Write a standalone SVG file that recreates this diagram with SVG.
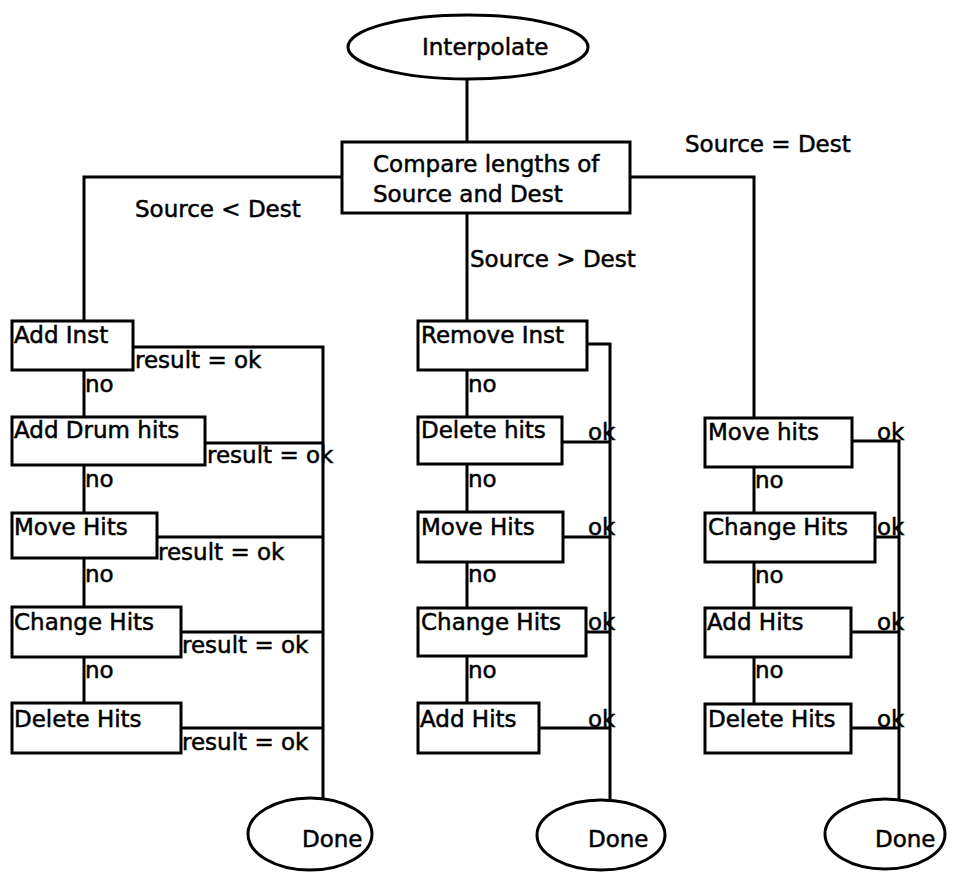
<svg xmlns="http://www.w3.org/2000/svg" width="961" height="872" viewBox="0 0 961 872">
  <style>
    .shape { fill: #fff; stroke: #000; stroke-width: 3; }
    .wire { fill: none; stroke: #000; stroke-width: 3; }
    text { font-family: "DejaVu Sans", "Liberation Sans", sans-serif; font-size: 23px; fill: #000; stroke: #000; stroke-width: 0.5; }
  </style>
  <rect width="961" height="872" fill="#fff"/>

  <!-- connectors -->
  <g id="connectors">
    <path class="wire" d="M467 79 V142"/>
    <path class="wire" d="M342 177 H84 V321"/>
    <path class="wire" d="M630 177 H754 V418"/>
    <path class="wire" d="M467 213 V321"/>
    <!-- left column -->
    <path class="wire" d="M84 370 V417 M84 465 V513 M84 558 V607 M84 657 V703"/>
    <path class="wire" d="M133 347 H323 V798"/>
    <path class="wire" d="M205 443 H323 M157 537 H323 M181 632 H323 M181 728 H323"/>
    <!-- middle column -->
    <path class="wire" d="M467 370 V417 M467 464 V512 M467 562 V608 M467 656 V703"/>
    <path class="wire" d="M587 344 H610 V800"/>
    <path class="wire" d="M562 442 H610 M563 537 H610 M586 632 H610 M539 728 H610"/>
    <!-- right column -->
    <path class="wire" d="M754 467 V513 M754 562 V608 M754 657 V704"/>
    <path class="wire" d="M852 441 H899 V799"/>
    <path class="wire" d="M875 537 H899 M851 632 H899 M851 728 H899"/>
  </g>

  <!-- branch labels -->
  <g id="labels">
    <text x="135" y="217">Source &lt; Dest</text>
    <text x="470" y="267">Source &gt; Dest</text>
    <text x="685" y="152">Source = Dest</text>

    <text x="135" y="368">result = ok</text>
    <text x="207" y="463">result = ok</text>
    <text x="158" y="560">result = ok</text>
    <text x="182" y="653">result = ok</text>
    <text x="182" y="750">result = ok</text>

    <text x="85" y="392">no</text>
    <text x="85" y="487">no</text>
    <text x="85" y="582">no</text>
    <text x="85" y="678">no</text>

    <text x="468" y="392">no</text>
    <text x="468" y="487">no</text>
    <text x="468" y="582">no</text>
    <text x="468" y="678">no</text>

    <text x="755" y="488">no</text>
    <text x="755" y="583">no</text>
    <text x="755" y="678">no</text>

    <text x="588" y="440">ok</text>
    <text x="588" y="535">ok</text>
    <text x="588" y="630">ok</text>
    <text x="588" y="727">ok</text>

    <text x="877" y="440">ok</text>
    <text x="877" y="535">ok</text>
    <text x="877" y="630">ok</text>
    <text x="877" y="727">ok</text>
  </g>

  <!-- nodes -->
  <g id="interpolate">
    <ellipse class="shape" cx="468" cy="47" rx="120" ry="32"/>
    <text x="422" y="55">Interpolate</text>
  </g>
  <g id="compare">
    <rect class="shape" x="342" y="142" width="288" height="71"/>
    <text x="373" y="172">Compare lengths of</text>
    <text x="373" y="202">Source and Dest</text>
  </g>

  <g id="add-inst">
    <rect class="shape" x="12" y="321" width="121" height="49"/>
    <text x="14" y="343">Add Inst</text>
  </g>
  <g id="add-drum-hits">
    <rect class="shape" x="12" y="417" width="193" height="48"/>
    <text x="14" y="438">Add Drum hits</text>
  </g>
  <g id="move-hits-left">
    <rect class="shape" x="12" y="513" width="145" height="45"/>
    <text x="14" y="535">Move Hits</text>
  </g>
  <g id="change-hits-left">
    <rect class="shape" x="12" y="607" width="169" height="50"/>
    <text x="14" y="630">Change Hits</text>
  </g>
  <g id="delete-hits-left">
    <rect class="shape" x="12" y="703" width="169" height="50"/>
    <text x="14" y="727">Delete Hits</text>
  </g>

  <g id="remove-inst">
    <rect class="shape" x="418" y="321" width="169" height="49"/>
    <text x="421" y="343">Remove Inst</text>
  </g>
  <g id="delete-hits-mid">
    <rect class="shape" x="418" y="417" width="144" height="47"/>
    <text x="421" y="438">Delete hits</text>
  </g>
  <g id="move-hits-mid">
    <rect class="shape" x="418" y="512" width="145" height="50"/>
    <text x="421" y="535">Move Hits</text>
  </g>
  <g id="change-hits-mid">
    <rect class="shape" x="418" y="608" width="168" height="48"/>
    <text x="421" y="630">Change Hits</text>
  </g>
  <g id="add-hits-mid">
    <rect class="shape" x="418" y="703" width="121" height="50"/>
    <text x="420" y="727">Add Hits</text>
  </g>

  <g id="move-hits-right">
    <rect class="shape" x="705" y="418" width="147" height="49"/>
    <text x="708" y="440">Move hits</text>
  </g>
  <g id="change-hits-right">
    <rect class="shape" x="705" y="513" width="170" height="49"/>
    <text x="708" y="535">Change Hits</text>
  </g>
  <g id="add-hits-right">
    <rect class="shape" x="705" y="608" width="146" height="49"/>
    <text x="707" y="630">Add Hits</text>
  </g>
  <g id="delete-hits-right">
    <rect class="shape" x="705" y="704" width="146" height="49"/>
    <text x="708" y="727">Delete Hits</text>
  </g>

  <g id="done-left">
    <ellipse class="shape" cx="310" cy="834" rx="62" ry="36"/>
    <text x="302" y="847">Done</text>
  </g>
  <g id="done-mid">
    <ellipse class="shape" cx="601" cy="835" rx="64" ry="35"/>
    <text x="588" y="847">Done</text>
  </g>
  <g id="done-right">
    <ellipse class="shape" cx="885" cy="834" rx="60" ry="35"/>
    <text x="875" y="847">Done</text>
  </g>
</svg>
